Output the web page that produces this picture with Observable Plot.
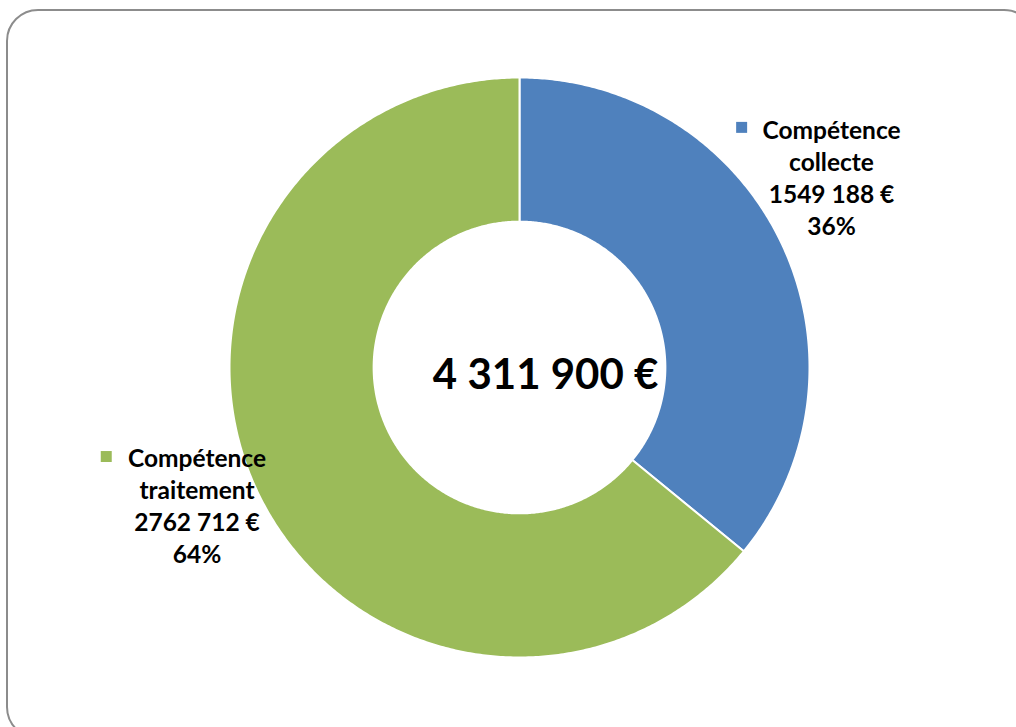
<!DOCTYPE html>
<html><head><meta charset="utf-8">
<script src="https://cdn.jsdelivr.net/npm/d3@7"></script>
<script src="https://cdn.jsdelivr.net/npm/@observablehq/plot@0.6"></script>
<style>
html,body{margin:0;padding:0;background:#fff;overflow:hidden;width:1016px;height:727px}
#frame{position:absolute;left:6px;top:9px;width:1030px;height:730px;border:2px solid #8c8c8c;border-radius:32px;box-sizing:border-box}
#chart{position:absolute;left:0;top:0}
</style></head>
<body><div id="frame"></div><div id="chart"></div>
<script>
// ---- data ----
const categories = ["Compétence collecte", "Compétence traitement"];
const categoryLines = [["Compétence", "collecte"], ["Compétence", "traitement"]];
const values = [1549188, 2762712];
const valueLabels = ["1549 188 €", "2762 712 €"];
const percentLabels = ["36%", "64%"];
const totalLabel = "4 311 900 €";
const colors = ["#4F81BD", "#9BBB59"];

// ---- layout (unit coordinates: outer radius = 1) ----
const innerR = 0.503;
const labelPos = [[1.076, 0.658], [-1.112, -0.472]];
const squarePos = [[0.766, 0.828], [-1.425, -0.307]];
const totalPos = [0.09, -0.027];

const total = d3.sum(values);
const slices = [];
let acc = 0;
categories.forEach((c, i) => {
  const a0 = acc / total * 2 * Math.PI;
  acc += values[i];
  const a1 = acc / total * 2 * Math.PI;
  const n = Math.max(2, Math.ceil((a1 - a0) / (Math.PI / 360)));
  for (let k = 0; k <= n; k++) {
    const a = a0 + (a1 - a0) * k / n;
    slices.push({cat: c, x: Math.sin(a), y: Math.cos(a)});
  }
  for (let k = n; k >= 0; k--) {
    const a = a0 + (a1 - a0) * k / n;
    slices.push({cat: c, x: innerR * Math.sin(a), y: innerR * Math.cos(a)});
  }
});

const labels = categories.map((c, i) => ({
  cat: c,
  text: [...categoryLines[i], valueLabels[i], percentLabels[i]].join("\n"),
  x: labelPos[i][0], y: labelPos[i][1],
  sx: squarePos[i][0], sy: squarePos[i][1]
}));

const chart = Plot.plot({
  width: 1016, height: 727,
  margin: 0,
  x: {type: "linear", domain: [-1, 1], range: [229, 809], axis: null},
  y: {type: "linear", domain: [-1, 1], range: [657, 77], axis: null},
  color: {domain: categories, range: colors},
  style: {fontFamily: "Lato, 'Open Sans', sans-serif", background: "transparent"},
  marks: [
    Plot.line(slices, {x: "x", y: "y", z: "cat", fill: "cat", stroke: "white", strokeWidth: 2, curve: "linear-closed"}),
    Plot.dot(labels, {x: "sx", y: "sy", fill: "cat", symbol: "square", r: 6.2, stroke: null}),
    Plot.text(labels, {x: "x", y: "y", text: "text", fontSize: 24.5, fontWeight: 700, fill: "black", lineHeight: 1.31, textAnchor: "middle", lineAnchor: "middle"}),
    Plot.text([totalLabel], {x: () => totalPos[0], y: () => totalPos[1], text: d => d, fontSize: 42, fontWeight: 700, fill: "black", textAnchor: "middle"})
  ]
});
document.getElementById("chart").appendChild(chart);
</script>
</body></html>
